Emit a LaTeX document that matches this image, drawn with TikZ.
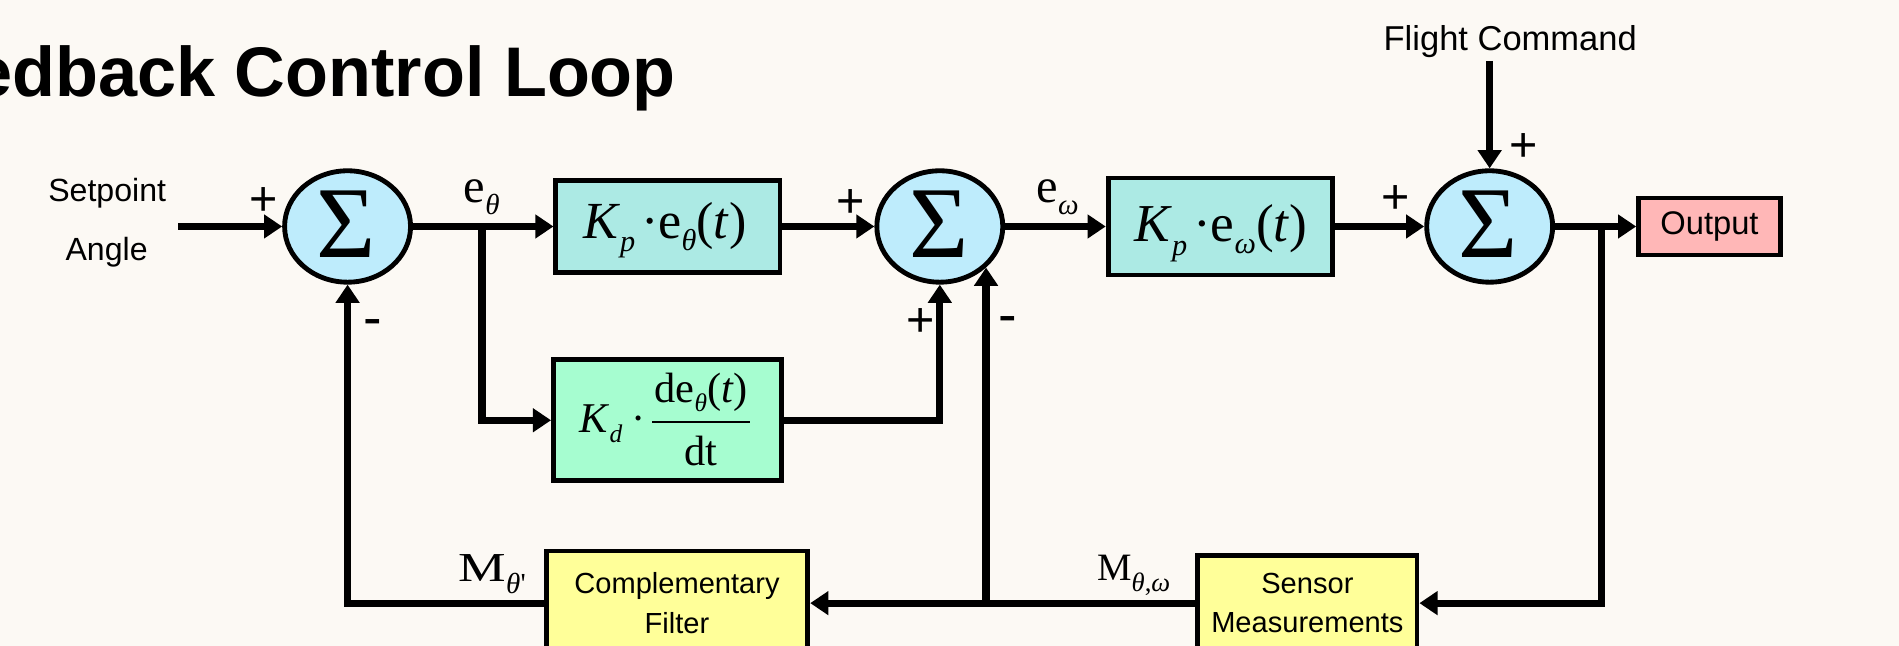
\documentclass[tikz,border=0pt]{standalone}
\usepackage{fontspec}
\usepackage{graphicx}
\setmainfont{Liberation Sans}
\newfontfamily\tms{Liberation Serif}
\usetikzlibrary{shapes.geometric,arrows.meta,calc}
\definecolor{bgc}{RGB}{252,249,244}
\definecolor{sumc}{RGB}{190,236,252}
\definecolor{kpc}{RGB}{172,234,228}
\definecolor{kdc}{RGB}{166,253,208}
\definecolor{outc}{RGB}{255,183,183}
\definecolor{yelc}{RGB}{255,255,153}
\newcommand\fsz[1]{\fontsize{#1}{#1}\selectfont}
\newcommand\sbx[3]{\raisebox{-#1}{\fsz{#2}#3}}
\newcommand\myfrac[2]{\raisebox{-27pt}{\setlength{\arrayrulewidth}{1.5pt}\begin{tabular}[b]{@{\hspace{2pt}}c@{\hspace{2pt}}}\rule[-15pt]{0pt}{15pt}#1\\\hline\rule{0pt}{35pt}#2\end{tabular}}}
\begin{document}
\begin{tikzpicture}[x=1pt,y=-1pt,
  line width=6pt,
  arr/.style={-{Triangle[length=15pt,width=19pt]}},
  sumnode/.style={ellipse, draw, line width=4pt, fill=sumc, minimum width=104pt, minimum height=92pt, inner sep=0pt},
  sigma/.style={font=\tms\fsz{84}, inner sep=0pt, anchor=base},
  blk/.style={rectangle, draw, line width=4pt, inner sep=0pt},
  mtxt/.style={font=\tms\fsz{43}, inner sep=0pt, anchor=base},
  lbl/.style={font=\fsz{26.5}, inner sep=0pt},
  sgn/.style={font=\fsz{40}, inner sep=0pt},
  mns/.style={font=\fsz{46}, inner sep=0pt},
]
\useasboundingbox (0,0) rectangle (1568,533);
\clip (0,0) rectangle (1568,533);
\fill[bgc] (0,0) rectangle (1568,533);

% title
\node[font=\bfseries\fsz{58}, anchor=base east, inner sep=0pt] (title) at (561,79.3) {Feedback Control Loop};

% input labels
\node[lbl, anchor=base] (sp) at (88.5,166.5) {Setpoint};
\node[lbl, anchor=base] (ang) at (88,215) {Angle};
\node[lbl, font=\fsz{28.5}, anchor=base] (fc) at (1247,41.3) {Flight Command};

% summing junctions
\node[sumnode] (s1) at (287,187) {};
\node[sigma] (sg1) at ($(s1.center)+(-1,26)$) {Σ};
\node[sumnode] (s2) at (776,187) {};
\node[sigma] (sg2) at ($(s2.center)+(-1,26)$) {Σ};
\node[sumnode] (s3) at (1230,187) {};
\node[sigma] (sg3) at ($(s3.center)+(-1,26)$) {Σ};

% blocks
\node[blk, fill=kpc, minimum width=185pt, minimum height=76pt] (kp1) at (551.5,187) {};
\node[mtxt] (kp1t) at ($(kp1.center)+(-2.5,10)$) {\textit{K}\sbx{11pt}{25}{\textit{p}}\hspace{5pt}·e\sbx{10pt}{25}{\textit{θ}}(\textit{t})};
\node[blk, fill=kdc, minimum width=188pt, minimum height=100pt] (kd) at (551,347) {};
\node[mtxt, font=\tms\fsz{35}] (kdt) at ($(kd.center)+(-2,10)$) {\textit{K}\sbx{8pt}{21}{\textit{d}}\hspace{8pt}·\hspace{5pt}\myfrac{de\sbx{7pt}{21}{\textit{θ}}(\textit{t})}{dt}};
\node[blk, fill=kpc, minimum width=185pt, minimum height=80pt] (kp2) at (1007.5,187) {};
\node[mtxt, font=\tms\fsz{44}] (kp2t) at ($(kp2.center)+(0.5,12)$) {\textit{K}\sbx{12pt}{25}{\textit{p}}\hspace{5pt}·e\sbx{10pt}{25}{\textit{ω}}(\textit{t})};
\node[blk, fill=outc, minimum width=117pt, minimum height=47pt, font=\fsz{27}] (out) at (1411.5,187) {Output};
\node[blk, fill=yelc, minimum width=216pt, minimum height=86pt, align=center, font=\fsz{24}] (cf) at (559,498) {Complementary\\[9pt]Filter};
\node[blk, fill=yelc, minimum width=181pt, minimum height=78pt, align=center, font=\fsz{24}] (sm) at (1079.5,498) {Sensor\\[8pt]Measurements};

% signal labels
\node[mtxt, font=\tms\fsz{40}, anchor=base west] (eth) at (380,167.5) {e\sbx{10pt}{24}{\textit{θ}}};
\node[mtxt, font=\tms\fsz{40}, anchor=base west] (eom) at (853,167) {e\sbx{10pt}{24}{\textit{ω}}};
\node[mtxt, font=\tms\fsz{34}, anchor=base west] (mth) at (375.7,480) {\scalebox{1.3}[1]{M}\sbx{10pt}{24}{\textit{θ}'}};
\node[mtxt, font=\tms\fsz{32}, anchor=base west] (mtw) at (903,479) {M\sbx{9pt}{22}{\textit{θ},\textit{ω}}};

% signs
\node[sgn] (ps1) at (218,166) {+};
\node[mns] (ms1) at (308,271) {-};
\node[sgn] (ps2) at (702.6,168) {+};
\node[sgn] (ps2b) at (760,266) {+};
\node[mns] (ms2) at (832,268.5) {-};
\node[sgn] (ps3) at (1152,165) {+};
\node[sgn] (ps3t) at (1258,122) {+};

% connectors
\coordinate (in1) at (147,187);
\draw[arr] (in1) -- (s1.west);
\draw[arr] (s1.east) -- (kp1.west);
\coordinate (br1) at (398,187);
\draw[arr] (br1) |- (kd.west);
\draw[arr] (kp1.east) -- (s2.west);
\draw[arr] (kd.east) -| (s2.south);
\draw[arr] (s2.east) -- (kp2.west);
\draw[arr] (kp2.east) -- (s3.west);
\draw[arr] (fc.south -| s3.north) -- (s3.north);
\draw[arr] (s3.east) -- (out.west);
\coordinate (br2) at (1322.5,187);
\draw[arr] (br2) |- (sm.east);
\draw[arr] (sm.west) -- (cf.east);
\coordinate (jn) at (s2.south east |- sm.west);
\draw[arr] (jn) -- (s2.south east);
\draw[arr] (cf.west) -| (s1.south);
\end{tikzpicture}
\end{document}
